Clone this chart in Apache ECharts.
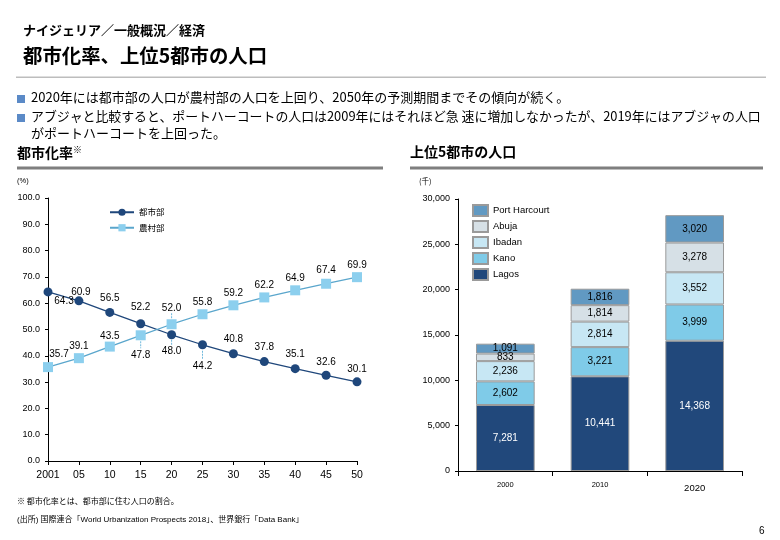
<!DOCTYPE html>
<html><head><meta charset="utf-8">
<script src="https://cdn.jsdelivr.net/npm/echarts@6/dist/echarts.min.js"></script>
<style>html,body{margin:0;padding:0;background:#fff}#c{width:780px;height:540px}</style>
</head><body><div id="c"></div>
<script>
// ---- data ----
const years = ['2001','05','10','15','20','25','30','35','40','45','50'];
const urban = [64.3,60.9,56.5,52.2,48.0,44.2,40.8,37.8,35.1,32.6,30.1];
const rural = [35.7,39.1,43.5,47.8,52.0,55.8,59.2,62.2,64.9,67.4,69.9];
const barYears = ['2000','2010','2020'];
const lagos = [7281,10441,14368];
const kano = [2602,3221,3999];
const ibadan = [2236,2814,3552];
const abuja = [833,1814,3278];
const portHarcourt = [1091,1816,3020];

// ---- layout (label placement only) ----
const uOff = [[16,9],[2,-9],[0,-14],[0,-16],[0,16],[0,21],[0,-14],[0,-14],[0,-14],[0,-13],[0,-13]];
const rOff = [[11,-13],[0,-12],[0,-10],[0,20],[0,-16],[0,-12],[0,-12],[0,-12],[0,-12],[0,-13],[0,-12]];
// leader lines: [series, index, pixel start, pixel end] relative to the point
const leaders = [['r',3,6,13],['u',4,5,10],['u',5,6,14],['r',4,-6,-12]];

const JP = "'Noto Sans CJK JP'";
const NUM = "'Liberation Sans','Noto Sans CJK JP'";
const cUrban = '#1f477b', cRural = '#8ccfee';

function lineData(vals, offs){
  return vals.map((v,i)=>({value:v, label:{offset:offs[i]}}));
}
const leaderData = leaders.map(l => [l[1], (l[0]==='u' ? urban : rural)[l[1]], l[2], l[3]]);

const chart = echarts.init(document.getElementById('c'), null, {renderer:'canvas'});
const barBorder = {borderColor:'#9a9a9a', borderWidth:1};
function bar(name, data, color, labelColor){
  return {type:'bar', name, data, stack:'p', xAxisIndex:1, yAxisIndex:1, barWidth:'62%',
    itemStyle:Object.assign({color}, barBorder),
    label:{show:true, position:'inside', color:labelColor, fontSize:10, fontFamily:NUM,
      formatter:p=>p.value.toLocaleString('en-US')}};
}
const texts = [
  {type:'text', left:23, top:24, style:{text:'ナイジェリア／一般概況／経済', font:"bold 13px "+JP, fill:'#000'}},
  {type:'text', left:23, top:46, style:{text:'都市化率、上位5都市の人口', font:"bold 19.4px "+JP, fill:'#000'}},
  {type:'rect', shape:{x:16,y:76.5,width:750,height:1.5}, style:{fill:'#bdbdbd'}},
  {type:'rect', shape:{x:17,y:95,width:8,height:8}, style:{fill:'#5b8ac7'}},
  {type:'rect', shape:{x:17,y:114,width:8,height:8}, style:{fill:'#5b8ac7'}},
  {type:'text', left:31, top:91, style:{text:'2020年には都市部の人口が農村部の人口を上回り、2050年の予測期間までその傾向が続く。', font:"13px "+JP, fill:'#000'}},
  {type:'text', left:31, top:110, style:{text:'アブジャと比較すると、ポートハーコートの人口は2009年にはそれほど急 速に増加しなかったが、2019年にはアブジャの人口', font:"12.9px "+JP, fill:'#000'}},
  {type:'text', left:31, top:127, style:{text:'がポートハーコートを上回った。', font:"13px "+JP, fill:'#000'}},
  {type:'text', left:17, top:145, style:{rich:{a:{font:"bold 14px "+JP, fill:'#000'}, b:{font:"9px "+JP, fill:'#000', verticalAlign:'top', padding:[0,0,6,0]}}, text:'{a|都市化率}{b|※}'}},
  {type:'rect', shape:{x:17,y:166.5,width:366,height:3}, style:{fill:'#7f7f7f'}},
  {type:'text', left:410, top:145, style:{text:'上位5都市の人口', font:"bold 14px "+JP, fill:'#000'}},
  {type:'rect', shape:{x:410,y:166.5,width:353,height:3}, style:{fill:'#7f7f7f'}},
  {type:'text', left:17, top:177, style:{text:'(%)', font:"7.5px "+NUM, fill:'#000'}},
  {type:'text', left:419, top:177, style:{text:'(千)', font:"7.5px "+JP, fill:'#000'}},
  {type:'text', left:17, top:497, style:{text:'※ 都市化率とは、都市部に住む人口の割合。', font:"8px "+JP, fill:'#000'}},
  {type:'text', left:17, top:516, style:{text:'(出所) 国際連合「World Urbanization Prospects 2018」、世界銀行「Data Bank」', font:"8px "+NUM, fill:'#000'}},
  {type:'text', left:759, top:526, style:{text:'6', font:"10px "+NUM, fill:'#000'}}
];
chart.setOption({
  animation:false,
  backgroundColor:'#fff',
  textStyle:{fontFamily:NUM},
  graphic:texts,
  grid:[
    {left:48, right:423, top:198, bottom:79},
    {left:458, right:38, top:199, bottom:69}
  ],
  legend:[
    {data:['都市部','農村部'], orient:'vertical', left:104, top:203, itemWidth:24, itemHeight:9, itemGap:7,
      textStyle:{fontFamily:JP, fontSize:8.5, color:'#000'}},
    {data:['Port Harcourt','Abuja','Ibadan','Kano','Lagos'], orient:'vertical', left:467, top:199, itemWidth:15, itemHeight:11, itemGap:3,
      icon:'rect', textStyle:{fontFamily:NUM, fontSize:9.5, color:'#000', lineHeight:11}}
  ],
  xAxis:[
    {type:'category', gridIndex:0, data:years, boundaryGap:false,
      axisLine:{lineStyle:{color:'#000', width:1}}, axisTick:{show:true, length:4, lineStyle:{color:'#000'}},
      axisLabel:{color:'#000', fontSize:10.5, margin:9, fontFamily:NUM}},
    {type:'category', gridIndex:1, data:barYears,
      axisLine:{lineStyle:{color:'#000', width:1}}, axisTick:{show:true, length:5, lineStyle:{color:'#000'}},
      axisLabel:{color:'#000', margin:10, fontFamily:NUM,
        formatter:v=> v==='2020' ? '{b|'+v+'}' : '{a|'+v+'}',
        rich:{a:{fontSize:7.5, fontFamily:NUM}, b:{fontSize:9.5, fontFamily:NUM, padding:[3,0,0,0]}}}}
  ],
  yAxis:[
    {type:'value', gridIndex:0, min:0, max:100, interval:10,
      axisLine:{show:true, lineStyle:{color:'#000'}}, axisTick:{show:true, length:3, lineStyle:{color:'#000'}},
      splitLine:{show:false},
      axisLabel:{color:'#000', fontSize:9, margin:8, formatter:v=>v.toFixed(1)}},
    {type:'value', gridIndex:1, min:0, max:30000, interval:5000,
      axisLine:{show:true, lineStyle:{color:'#000'}}, axisTick:{show:true, length:3, lineStyle:{color:'#000'}},
      splitLine:{show:false},
      axisLabel:{color:'#000', fontSize:9, margin:8, formatter:v=>v.toLocaleString('en-US')}}
  ],
  series:[
    {type:'custom', name:'leader', xAxisIndex:0, yAxisIndex:0, data:leaderData, silent:true, z:1,
      renderItem:(params, api)=>{
        const pt = api.coord([api.value(0), api.value(1)]);
        return {type:'line', shape:{x1:pt[0], y1:pt[1]+api.value(2), x2:pt[0], y2:pt[1]+api.value(3)},
          style:{stroke:'#6fb8dc', lineWidth:1, lineDash:[2,1]}};
      }},
    {type:'line', name:'都市部', xAxisIndex:0, yAxisIndex:0, data:lineData(urban,uOff),
      symbol:'circle', symbolSize:9, color:cUrban, lineStyle:{width:1.3, color:cUrban},
      label:{show:true, position:'inside', color:'#000', fontSize:10, fontFamily:NUM, formatter:p=>p.value.toFixed(1)}},
    {type:'line', name:'農村部', xAxisIndex:0, yAxisIndex:0, data:lineData(rural,rOff),
      symbol:'rect', symbolSize:10, color:cRural, lineStyle:{width:1.3, color:'#5aa6cc'},
      label:{show:true, position:'inside', color:'#000', fontSize:10, fontFamily:NUM, formatter:p=>p.value.toFixed(1)}},
    bar('Lagos', lagos, '#21487b', '#fff'),
    bar('Kano', kano, '#7fcbe8', '#000'),
    bar('Ibadan', ibadan, '#c7e7f4', '#000'),
    bar('Abuja', abuja, '#d6e0e6', '#000'),
    bar('Port Harcourt', portHarcourt, '#6199c2', '#000')
  ]
});
</script></body></html>
